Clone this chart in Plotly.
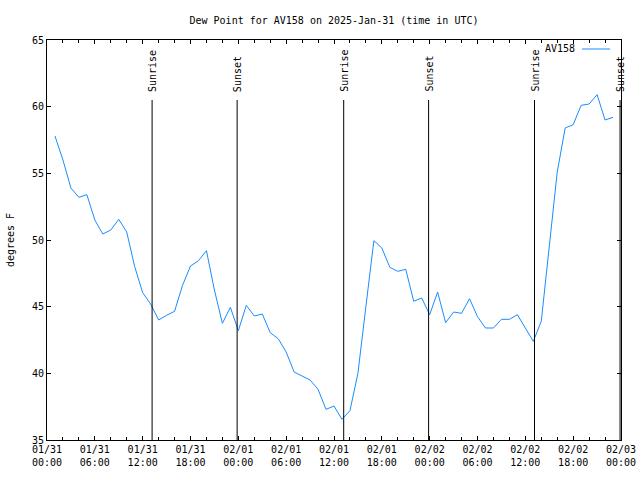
import pandas as pd
import plotly.graph_objects as go

# ---- data ----
start_time = "2025-01-31 01:00"
dew_point = [57.8, 56.0, 53.9, 53.2, 53.4, 51.5, 50.45, 50.75, 51.55, 50.6,
             48.0, 46.05, 45.2, 44.0, 44.35, 44.65, 46.6, 48.05, 48.45, 49.2,
             46.25, 43.75, 44.95, 43.2, 45.1, 44.3, 44.45, 43.05, 42.6, 41.6,
             40.1, 39.8, 39.5, 38.8, 37.3, 37.55, 36.55, 37.2, 40.0, 45.0,
             49.95, 49.4, 47.95, 47.65, 47.8, 45.4, 45.65, 44.4, 46.1, 43.8,
             44.6, 44.5, 45.6, 44.25, 43.4, 43.4, 44.05, 44.05, 44.4, 43.4,
             42.4, 43.9, 49.7, 55.1, 58.4, 58.65, 60.1, 60.2, 60.9, 59.0, 59.2]
times = pd.date_range(start_time, periods=len(dew_point), freq="h")

sun_events = ["Sunrise", "Sunset", "Sunrise", "Sunset", "Sunrise", "Sunset"]
sun_times = ["2025-01-31 13:11", "2025-01-31 23:51", "2025-02-01 13:13",
             "2025-02-01 23:52", "2025-02-02 13:09", "2025-02-02 23:53"]

tick_vals = ["2025-01-31 00:00", "2025-01-31 06:00", "2025-01-31 12:00", "2025-01-31 18:00",
             "2025-02-01 00:00", "2025-02-01 06:00", "2025-02-01 12:00", "2025-02-01 18:00",
             "2025-02-02 00:00", "2025-02-02 06:00", "2025-02-02 12:00", "2025-02-02 18:00",
             "2025-02-03 00:00"]
tick_text = ["01/31<br>00:00", "01/31<br>06:00", "01/31<br>12:00", "01/31<br>18:00",
             "02/01<br>00:00", "02/01<br>06:00", "02/01<br>12:00", "02/01<br>18:00",
             "02/02<br>00:00", "02/02<br>06:00", "02/02<br>12:00", "02/02<br>18:00",
             "02/03<br>00:00"]
y_ticks = [35, 40, 45, 50, 55, 60, 65]

title = "Dew Point for AV158 on 2025-Jan-31 (time in UTC)"
series_name = "AV158"
line_color = "#1a8cff"
FONT = "DejaVu Sans Mono"

fig = go.Figure()
fig.add_trace(go.Scatter(x=times, y=dew_point, mode="lines", name=series_name,
                         line=dict(color=line_color, width=1), showlegend=False))

shapes = []
annotations = []
for ev, t in zip(sun_events, sun_times):
    shapes.append(dict(type="line", xref="x", yref="y", x0=t, x1=t, y0=35, y1=60.5,
                       line=dict(color="black", width=1)))
    annotations.append(dict(x=t, y=60.95, xref="x", yref="y", text=ev, textangle=-90,
                            showarrow=False, xanchor="center", yanchor="bottom",
                            font=dict(family=FONT, size=10, color="black")))

# legend (gnuplot style: text then sample)
annotations.append(dict(x=0.924, y=0.9775, xref="paper", yref="paper", text=series_name,
                        showarrow=False, xanchor="right", yanchor="middle",
                        font=dict(family=FONT, size=10, color="black")))
shapes.append(dict(type="line", xref="paper", yref="paper", x0=0.932, x1=0.981,
                   y0=0.9775, y1=0.9775, line=dict(color=line_color, width=1)))

fig.update_layout(
    width=640, height=480,
    margin=dict(l=47, r=19, t=40, b=40),
    paper_bgcolor="white", plot_bgcolor="white",
    font=dict(family=FONT, size=10, color="black"),
    title=dict(text=title, x=0.5, xref="paper", y=1 - 20 / 480, yref="container",
               xanchor="center", yanchor="middle", font=dict(family=FONT, size=10)),
    shapes=shapes, annotations=annotations,
)
fig.update_xaxes(type="date", range=["2025-01-31 00:00", "2025-02-03 00:00"],
                 automargin=False,
                 tickvals=tick_vals, ticktext=tick_text, ticks="inside", ticklen=4,
                 tickcolor="black", showline=True, linecolor="black", linewidth=1,
                 mirror="ticks", showgrid=False, zeroline=False,
                 minor=dict(dtick=2 * 3600 * 1000, ticks="inside", ticklen=3,
                            tickcolor="black", showgrid=False),
                 tickfont=dict(family=FONT, size=10, color="black"))
fig.update_yaxes(range=[35, 65], tickvals=y_ticks, ticks="inside", ticklen=4,
                 automargin=False,
                 tickcolor="black", showline=True, linecolor="black", linewidth=1,
                 mirror="ticks", showgrid=False, zeroline=False,
                 title=dict(text="degrees F", standoff=15,
                            font=dict(family=FONT, size=10, color="black")),
                 tickfont=dict(family=FONT, size=10, color="black"))

fig.write_html("out.html")
